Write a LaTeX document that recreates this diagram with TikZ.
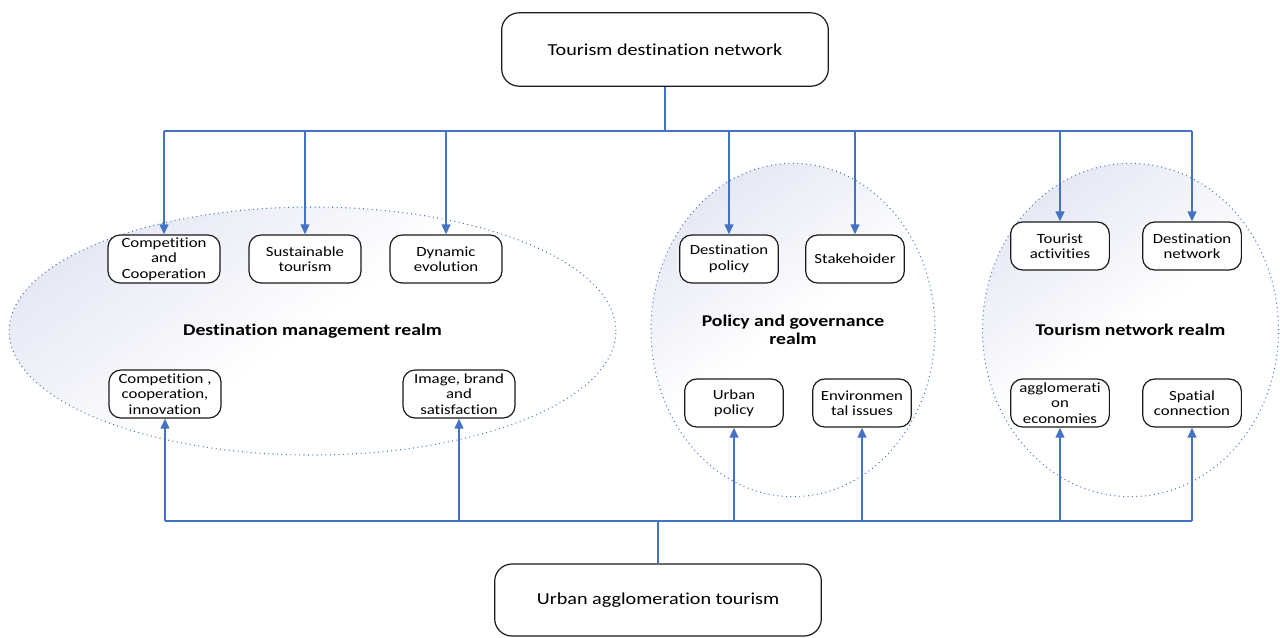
\documentclass[tikz,border=0pt]{standalone}
\usepackage{fontspec}
\setmainfont{Carlito}[FakeStretch=1.2, RawFeature={-liga}]
\usetikzlibrary{arrows.meta,shapes.geometric}
\definecolor{linkblue}{HTML}{4472C4}
\definecolor{lav}{HTML}{E6E8F4}
\definecolor{boxline}{HTML}{1A1A1A}
\tikzset{
  box/.style={draw=boxline, line width=0.9pt, rounded corners=9pt, fill=white,
    minimum width=84pt, minimum height=36pt, align=center, inner sep=1pt,
    font=\fontsize{10.5}{11.6}\selectfont},
  bigbox/.style={draw=boxline, line width=0.9pt, rounded corners=13pt, fill=white,
    minimum width=245pt, minimum height=55pt, align=center,
    font=\fontsize{12.6}{15}\selectfont},
  realm/.style={ellipse, draw=linkblue, line width=0.8pt, dash pattern=on 0.7pt off 2.6pt,
    shading=axis, top color=lav, bottom color=white, middle color=white, shading angle=35,
    inner sep=0pt, align=center, font=\bfseries\fontsize{12.3}{13.5}\selectfont},
  conn/.style={draw=linkblue, line width=1.5pt},
  arr/.style={conn, -{Triangle[length=7.5pt,width=6.5pt]}},
}
\begin{document}
\begin{tikzpicture}[x=0.75pt,y=-0.75pt]
\useasboundingbox (0,0) rectangle (1280,637);
% realms
\node[realm, minimum width=455pt, minimum height=186pt] (L) at (312.5,331) {Destination management realm};
\node[realm, minimum width=213pt, minimum height=250pt] (M) at (793,330) {Policy and governance\\realm};
\node[realm, minimum width=222pt, minimum height=250pt] (R) at (1130.5,330) {Tourism network realm};
% main boxes
\node[bigbox] (top) at (665,49.5) {Tourism destination network};
\node[bigbox, minimum height=54pt] (bot) at (658,600) {Urban agglomeration tourism};
% left realm boxes
\node[box] (cc) at (164,259) {Competition\\and\\Cooperation};
\node[box] (st) at (305,259) {Sustainable\\tourism};
\node[box] (de) at (446,259) {Dynamic\\evolution};
\node[box] (ci) at (165,394) {Competition ,\\cooperation,\\innovation};
\node[box] (ib) at (459,394) {Image, brand\\and\\satisfaction};
% middle realm boxes
\node[box, minimum width=74pt] (dp) at (729,259) {Destination\\policy};
\node[box, minimum width=74pt] (sh) at (855,259) {Stakehoider};
\node[box, minimum width=74pt] (up) at (734,403) {Urban\\policy};
\node[box, minimum width=74pt] (ei) at (862,403) {Environmen\\tal issues};
% right realm boxes
\node[box, minimum width=74pt] (ta) at (1060,246) {Tourist\\activities};
\node[box, minimum width=74pt] (dn) at (1192,246) {Destination\\network};
\node[box, minimum width=74pt] (ag) at (1060,403) {agglomerati\\on\\economies};
\node[box, minimum width=74pt] (sc) at (1192,403) {Spatial\\connection};
% top connectors
\coordinate (th) at (665,131);
\draw[conn] (top.south) -- (th);
\draw[conn] (cc.north |- th) -- (dn.north |- th);
\foreach \n in {cc,st,de,dp,sh,ta,dn}{
  \draw[arr] (\n.north |- th) -- (\n.north);
}
% bottom connectors
\coordinate (bh) at (658,521);
\draw[conn] (bot.north) -- (bh);
\draw[conn] (ci.south |- bh) -- (sc.south |- bh);
\foreach \n in {ci,ib,up,ei,ag,sc}{
  \draw[arr] (\n.south |- bh) -- (\n.south);
}
\end{tikzpicture}
\end{document}
